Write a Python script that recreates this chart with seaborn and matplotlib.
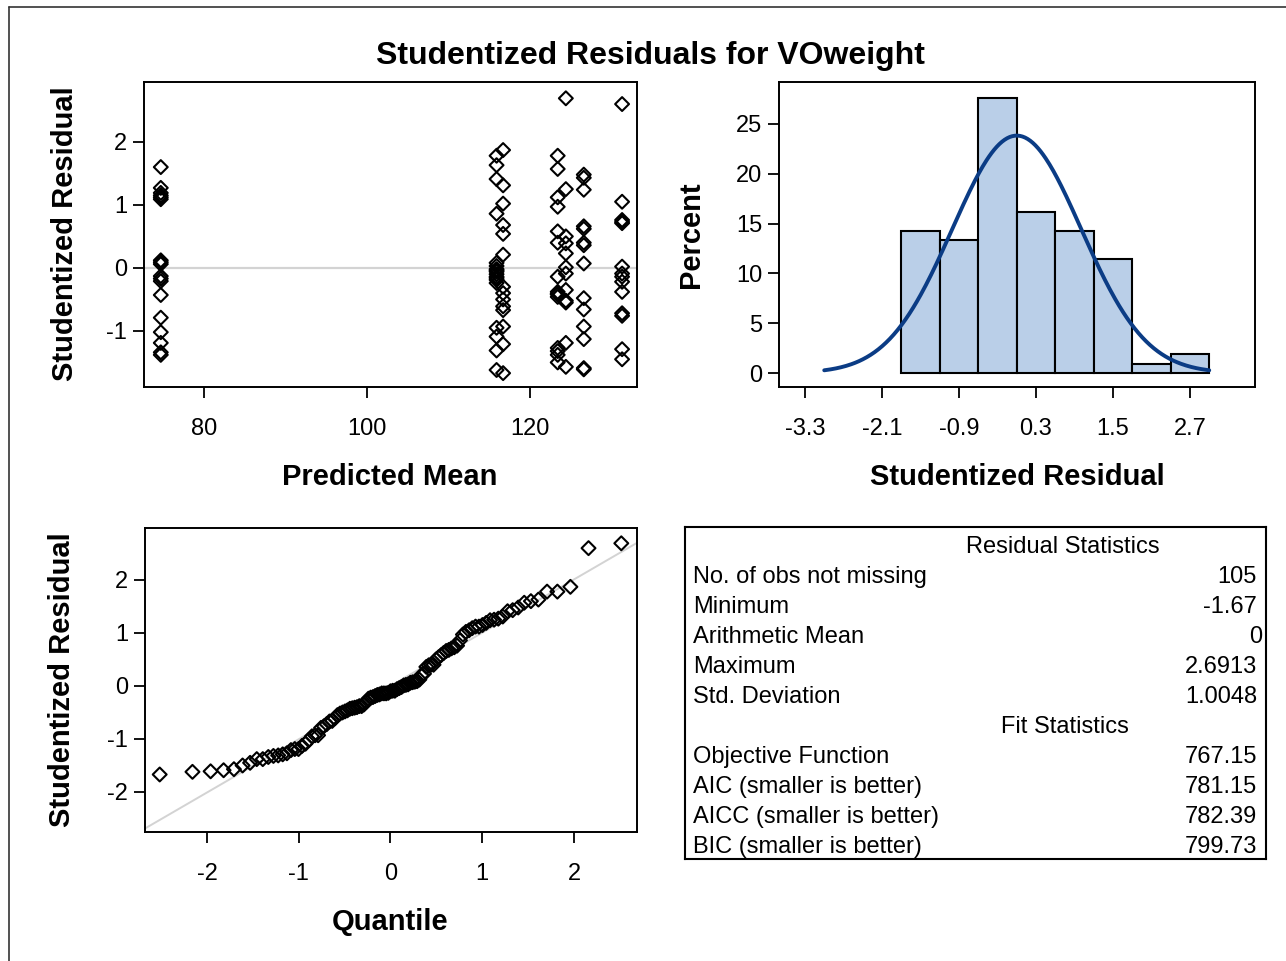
import matplotlib
matplotlib.use("Agg")
import numpy as np
import pandas as pd
import seaborn as sns
import matplotlib.pyplot as plt
from matplotlib.lines import Line2D
from statistics import NormalDist

# predicted mean of each column of points in the residual plot
pred_cols = [74.7, 115.9, 116.7, 123.4, 124.4, 126.6, 131.3]
# studentized residuals in each of those columns
resid_cols = [
    [1.60, 1.27, 1.19, 1.15, 1.12, 1.09, 0.12, 0.09, 0.06, -0.13, -0.17,
     -0.21, -0.43, -0.79, -1.02, -1.19, -1.34, -1.38],
    [1.78, 1.63, 1.41, 0.86, 0.08, 0.03, -0.02, -0.04, -0.06, -0.10, -0.14,
     -0.16, -0.19, -0.24, -0.95, -1.09, -1.31, -1.62],
    [1.87, 1.31, 1.02, 0.68, 0.54, 0.21, -0.30, -0.40, -0.50, -0.61, -0.67,
     -0.93, -1.21, -1.67],
    [1.78, 1.57, 1.12, 0.97, 0.58, 0.40, -0.14, -0.38, -0.41, -0.42, -0.46,
     -1.27, -1.32, -1.38, -1.50],
    [2.6913, 1.25, 0.50, 0.39, 0.23, 0.01, -0.09, -0.35, -0.52, -0.55,
     -1.19, -1.57],
    [1.48, 1.43, 1.24, 0.66, 0.62, 0.40, 0.36, 0.07, -0.48, -0.66, -0.93,
     -1.13, -1.59, -1.61],
    [2.60, 1.05, 0.76, 0.73, 0.71, 0.02, -0.09, -0.14, -0.22, -0.38, -0.72,
     -0.76, -1.29, -1.45],
]

# histogram bins (percent scale)
bin_start = -1.8
bin_end = 3.0
bin_width = 0.6
hist_ticks = [-3.3, -2.1, -0.9, 0.3, 1.5, 2.7]

# statistics table
resid_stat_names = ["No. of obs not missing", "Minimum", "Arithmetic Mean",
                    "Maximum", "Std. Deviation"]
resid_stat_values = ["105", "-1.67", "0", "2.6913", "1.0048"]
fit_stat_names = ["Objective Function", "AIC (smaller is better)",
                  "AICC (smaller is better)", "BIC (smaller is better)"]
fit_stat_values = ["767.15", "781.15", "782.39", "799.73"]

resid_mean = float(resid_stat_values[2])
resid_std = float(resid_stat_values[4])

df = pd.DataFrame({
    "pred": [p for p, col in zip(pred_cols, resid_cols) for _ in col],
    "resid": [r for col in resid_cols for r in col],
})

sns.set_style("ticks")
plt.rcParams["font.family"] = ["Liberation Sans", "DejaVu Sans"]
plt.rcParams["axes.unicode_minus"] = False
for k in ["text.color", "axes.labelcolor", "xtick.color", "ytick.color"]:
    plt.rcParams[k] = "black"

W, H = 1286, 961
fig = plt.figure(figsize=(W / 100, H / 100), dpi=100)


def box(l, t, r, b):
    return [l / W, 1 - b / H, (r - l) / W, (b - t) / H]


def fx(x):
    return x / W


def fy(y):
    return 1 - y / H


LBL = dict(fontsize=21, fontweight="bold")
GRAY = "#D3D3D3"
MK = dict(marker="D", s=50, facecolor="none", edgecolor="black", linewidth=1.5)


def style(ax):
    for s in ax.spines.values():
        s.set_linewidth(1.4)
        s.set_color("black")
    ax.tick_params(direction="out", length=8, width=1.3, labelsize=17,
                   color="black")
    ax.tick_params(axis="x", pad=14)
    ax.tick_params(axis="y", pad=4)


def labels(ax, xl, xpos, yl, ypos):
    ax.set_xlabel(xl, **LBL)
    ax.set_ylabel(yl, **LBL)
    ax.xaxis.label.set_va("baseline")
    ax.yaxis.label.set_va("baseline")
    ax.xaxis.set_label_coords(fx(xpos[0]), fy(xpos[1]), transform=fig.transFigure)
    ax.yaxis.set_label_coords(fx(ypos[0]), fy(ypos[1]), transform=fig.transFigure)


# residual vs predicted
ax1 = fig.add_axes(box(144, 82, 637, 387))
ax1.axhline(0, color=GRAY, lw=1.6, zorder=0)
sns.scatterplot(data=df, x="pred", y="resid", ax=ax1, **MK)
ax1.set_xlim(72.64, 133.13)
ax1.set_ylim(-1.89, 2.95)
ax1.set_xticks([80, 100, 120])
ax1.set_yticks([-1, 0, 1, 2])
style(ax1)
labels(ax1, "Predicted Mean", (390, 485), "Studentized Residual", (73, 234))

# histogram with normal curve
ax2 = fig.add_axes(box(779, 82, 1255, 387))
sns.histplot(data=df, x="resid", binwidth=bin_width,
             binrange=(bin_start, bin_end), stat="percent",
             color="#BACFE8", edgecolor="black", linewidth=1.5, alpha=1,
             ax=ax2)
xs = np.linspace(-3.0, 3.0, 300)
nd = NormalDist(resid_mean, resid_std)
ys = [nd.pdf(v) * 100 * bin_width for v in xs]
sns.lineplot(x=xs, y=ys, color="#0B3C85", lw=2.8, ax=ax2)
ax2.set_xlim(-3.705, 3.713)
ax2.set_ylim(-1.4, 29.2)
ax2.set_xticks(hist_ticks)
ax2.set_xticklabels([f"{t:.1f}" for t in hist_ticks])
ax2.set_yticks([0, 5, 10, 15, 20, 25])
style(ax2)
labels(ax2, "Studentized Residual", (1017, 485), "Percent", (699, 235))

# normal quantile plot
ax3 = fig.add_axes(box(145, 528, 637, 832))
r_sorted = np.sort(df["resid"].values)
n = len(r_sorted)
q = [NormalDist().inv_cdf((i - 0.375) / (n + 0.25)) for i in range(1, n + 1)]
ax3.axline((0, resid_mean), slope=resid_std, color=GRAY, lw=1.4, zorder=0)
sns.scatterplot(x=q, y=r_sorted, ax=ax3, **MK)
ax3.set_xlim(-2.676, 2.687)
ax3.set_ylim(-2.755, 2.98)
ax3.set_xticks([-2, -1, 0, 1, 2])
ax3.set_yticks([-2, -1, 0, 1, 2])
style(ax3)
labels(ax3, "Quantile", (390, 930), "Studentized Residual", (70, 680))

# statistics table
ax4 = fig.add_axes(box(685, 527, 1266, 859))
ax4.set_xlim(685, 1266)
ax4.set_ylim(859, 527)
ax4.set_xticks([])
ax4.set_yticks([])
for s in ax4.spines.values():
    s.set_linewidth(1.5)
    s.set_color("black")
TF = dict(fontsize=17, va="baseline")
off = 8.5
ax4.text(1063, 545 + off, "Residual Statistics", ha="center", **TF)
for i, (nm, v) in enumerate(zip(resid_stat_names, resid_stat_values)):
    y = 575 + 30 * i + off
    ax4.text(693, y, nm, ha="left", **TF)
    ax4.text(1262 if v == "0" else 1257, y, v, ha="right", **TF)
ax4.text(1065, 725 + off, "Fit Statistics", ha="center", **TF)
for i, (nm, v) in enumerate(zip(fit_stat_names, fit_stat_values)):
    y = 755 + 30 * i + off
    ax4.text(693, y, nm, ha="left", **TF)
    ax4.text(1257, y, v, ha="right", **TF)

fig.text(fx(650), fy(64), "Studentized Residuals for VOweight", ha="center",
         va="baseline", fontsize=23, fontweight="bold")

# outer frame (left and top edges visible)
fig.add_artist(Line2D([fx(9), fx(9)], [fy(7), 0], color="#333333", lw=1.2))
fig.add_artist(Line2D([fx(9), 1], [fy(7), fy(7)], color="#333333", lw=1.2))

fig.savefig("out.png", dpi=100)
